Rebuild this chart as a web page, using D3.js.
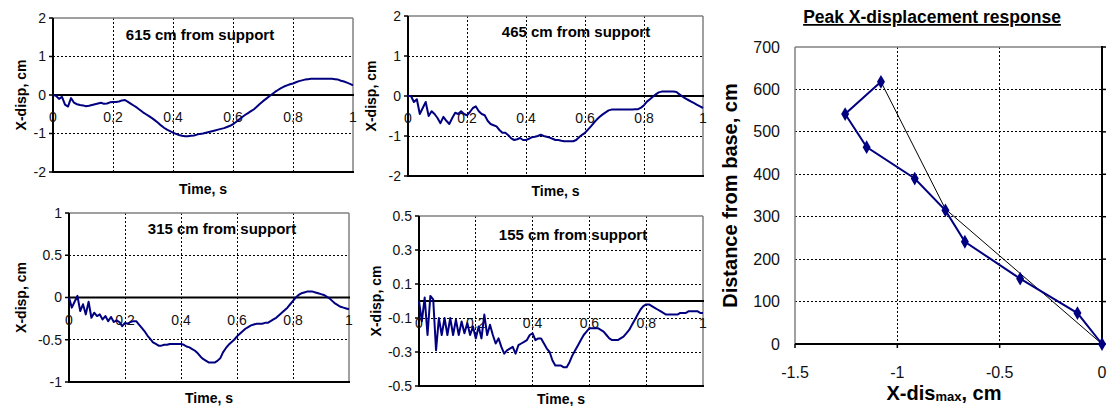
<!DOCTYPE html>
<html>
<head>
<meta charset="utf-8">
<style>
body { margin: 0; background: #fff; }
svg { font-family: Arial, "Liberation Sans", sans-serif; }
.grid { stroke: #000; stroke-width: 1; stroke-dasharray: 2,2; shape-rendering: crispEdges; }
.frame { stroke: #808080; stroke-width: 1.5; }
.axisline { stroke: #000; stroke-width: 2; }
</style>
</head>
<body>
<svg width="1107" height="406"></svg>
<script src="https://d3js.org/d3.v7.min.js"></script>
<script>

// time base of the four records, 0.01 s steps
var time = d3.range(0, 101).map(function(i) { return i / 100; });
var timeTicks = [0, 0.2, 0.4, 0.6, 0.8, 1];

// X-displacement (cm)
var disp615 = [0, -0.02, -0.1, -0.05, -0.25, -0.3, -0.08, -0.2, -0.24, -0.26,
  -0.27, -0.29, -0.28, -0.26, -0.24, -0.22, -0.2, -0.23, -0.22, -0.19,
  -0.18, -0.18, -0.17, -0.14, -0.13, -0.18, -0.23, -0.28, -0.33, -0.39,
  -0.45, -0.5, -0.55, -0.6, -0.66, -0.72, -0.79, -0.85, -0.9, -0.94,
  -0.98, -1.01, -1.04, -1.06, -1.07, -1.07, -1.06, -1.05, -1.03, -1.01,
  -1.0, -0.98, -0.96, -0.94, -0.92, -0.9, -0.88, -0.86, -0.83, -0.8,
  -0.76, -0.7, -0.64, -0.58, -0.52, -0.47, -0.42, -0.37, -0.3, -0.23,
  -0.16, -0.1, -0.04, 0.02, 0.08, 0.13, 0.18, 0.22, 0.25, 0.28,
  0.3, 0.33, 0.36, 0.38, 0.4, 0.41, 0.42, 0.42, 0.42, 0.42,
  0.42, 0.42, 0.42, 0.42, 0.41, 0.4, 0.37, 0.35, 0.32, 0.29, 0.25];

var disp465 = [0, 0, -0.15, -0.08, -0.45, -0.3, -0.15, -0.5, -0.38, -0.45,
  -0.55, -0.68, -0.52, -0.62, -0.7, -0.55, -0.42, -0.45, -0.38, -0.45,
  -0.48, -0.4, -0.3, -0.26, -0.38, -0.45, -0.48, -0.62, -0.7, -0.73,
  -0.76, -0.85, -0.92, -0.92, -0.98, -1.06, -1.1, -1.08, -1.05, -1.1,
  -1.1, -1.07, -1.03, -1.02, -1.0, -0.97, -1.0, -1.02, -1.04, -1.07,
  -1.1, -1.1, -1.12, -1.13, -1.13, -1.13, -1.13, -1.1, -1.03, -0.97,
  -0.92, -0.84, -0.76, -0.67, -0.59, -0.52, -0.46, -0.41, -0.36, -0.34,
  -0.34, -0.34, -0.34, -0.34, -0.34, -0.34, -0.34, -0.33, -0.33, -0.29,
  -0.23, -0.14, -0.08, -0.02, 0.04, 0.09, 0.11, 0.11, 0.11, 0.11,
  0.11, 0.1, 0.04, -0.01, -0.06, -0.1, -0.14, -0.18, -0.22, -0.26, -0.3];

var disp315 = [0, -0.12, -0.05, 0.02, -0.16, -0.08, -0.2, -0.05, -0.24, -0.18,
  -0.22, -0.2, -0.26, -0.22, -0.28, -0.23, -0.29, -0.27, -0.29, -0.34,
  -0.3, -0.31, -0.29, -0.28, -0.28, -0.32, -0.36, -0.4, -0.45, -0.49,
  -0.53, -0.55, -0.57, -0.57, -0.56, -0.56, -0.55, -0.55, -0.55, -0.55,
  -0.55, -0.56, -0.58, -0.59, -0.61, -0.63, -0.66, -0.7, -0.73, -0.75,
  -0.77, -0.77, -0.77, -0.75, -0.72, -0.65, -0.6, -0.56, -0.53, -0.5,
  -0.46, -0.43, -0.4, -0.37, -0.35, -0.33, -0.32, -0.31, -0.31, -0.31,
  -0.3, -0.3, -0.28, -0.26, -0.24, -0.21, -0.18, -0.15, -0.12, -0.08,
  -0.04, 0, 0.03, 0.05, 0.06, 0.07, 0.07, 0.07, 0.06, 0.05,
  0.04, 0.03, 0.01, -0.01, -0.04, -0.07, -0.09, -0.11, -0.12, -0.13, -0.14];

var disp155 = [0, -0.12, 0.02, -0.2, 0.03, 0.01, -0.29, -0.1, -0.2, -0.1,
  -0.2, -0.1, -0.2, -0.11, -0.2, -0.12, -0.19, -0.13, -0.2, -0.15,
  -0.22, -0.15, -0.22, -0.08, -0.2, -0.14, -0.2, -0.25, -0.22, -0.27,
  -0.31, -0.29, -0.28, -0.27, -0.31, -0.26, -0.25, -0.24, -0.23, -0.2,
  -0.19, -0.23, -0.22, -0.22, -0.25, -0.28, -0.3, -0.35, -0.38, -0.38,
  -0.38, -0.39, -0.39, -0.36, -0.32, -0.29, -0.26, -0.23, -0.2, -0.18,
  -0.16, -0.16, -0.16, -0.16, -0.17, -0.18, -0.2, -0.22, -0.23, -0.23,
  -0.23, -0.22, -0.21, -0.19, -0.17, -0.14, -0.11, -0.08, -0.05, -0.03,
  -0.02, -0.02, -0.03, -0.04, -0.05, -0.06, -0.07, -0.08, -0.08, -0.08,
  -0.08, -0.08, -0.07, -0.07, -0.07, -0.06, -0.06, -0.06, -0.06, -0.07, -0.07];

// peak response profile
var peakDisp   = [0, -0.12, -0.4, -0.67, -0.765, -0.915, -1.15, -1.255, -1.08];
var peakHeight = [0, 73, 154, 241, 315, 390, 464, 542, 618];
var fitDisp    = [0, -0.765, -1.08];
var fitHeight  = [0, 318, 618];
var peakXTicks = [-1.5, -1, -0.5, 0];
var peakYTicks = [0, 100, 200, 300, 400, 500, 600, 700];

var svg = d3.select("svg");
var navy = "#000080";

var panels = [
  {title: "615 cm from support", values: disp615, yTicks: [-2, -1, 0, 1, 2],
   box: {l: 53, r: 353, t: 18, b: 172}, titleX: 200, titleY: 40, ylabX: 21, timeY: 194},
  {title: "465 cm from support", values: disp465, yTicks: [-2, -1, 0, 1, 2],
   box: {l: 408, r: 703, t: 16, b: 176}, titleX: 576, titleY: 37, ylabX: 371, timeY: 196},
  {title: "315 cm from support", values: disp315, yTicks: [-1, -0.5, 0, 0.5, 1],
   box: {l: 69, r: 349, t: 213, b: 382}, titleX: 222, titleY: 234, ylabX: 21, timeY: 403},
  {title: "155 cm from support", values: disp155, yTicks: [-0.5, -0.3, -0.1, 0.1, 0.3, 0.5],
   box: {l: 419, r: 703, t: 216, b: 386}, titleX: 573, titleY: 240, ylabX: 376, timeY: 404}
];

panels.forEach(drawPanel);

function drawPanel(p) {
  var b = p.box;
  var x = d3.scaleLinear().domain([0, 1]).range([b.l, b.r]);
  var y = d3.scaleLinear().domain(d3.extent(p.yTicks)).range([b.b, b.t]);
  var g = svg.append("g");

  // gridlines
  g.selectAll(".hg").data(p.yTicks.slice(1, -1).filter(function(d) { return d !== 0; }))
    .enter().append("line").attr("class", "grid")
    .attr("x1", b.l).attr("x2", b.r)
    .attr("y1", function(d) { return y(d); }).attr("y2", function(d) { return y(d); });
  g.selectAll(".vg").data(timeTicks.slice(1, -1))
    .enter().append("line").attr("class", "grid")
    .attr("y1", b.t).attr("y2", b.b)
    .attr("x1", function(d) { return x(d); }).attr("x2", function(d) { return x(d); });

  // plot frame: grey top/right, black axis lines left/bottom
  g.append("line").attr("class", "frame").attr("x1", b.l).attr("x2", b.r).attr("y1", b.t).attr("y2", b.t);
  g.append("line").attr("class", "frame").attr("x1", b.r).attr("x2", b.r).attr("y1", b.t).attr("y2", b.b);
  g.append("line").attr("class", "axisline").attr("x1", b.l).attr("x2", b.r + 1).attr("y1", b.b).attr("y2", b.b);
  g.append("line").attr("class", "axisline").attr("x1", b.l).attr("x2", b.l).attr("y1", b.t).attr("y2", b.b + 1);
  g.append("line").attr("class", "axisline").attr("x1", b.l).attr("x2", b.r + 1).attr("y1", y(0)).attr("y2", y(0));

  // y ticks + labels
  g.selectAll(".yt").data(p.yTicks).enter().append("line")
    .attr("stroke", "#000").attr("stroke-width", 1.5)
    .attr("x1", b.l - 4).attr("x2", b.l)
    .attr("y1", function(d) { return y(d); }).attr("y2", function(d) { return y(d); });
  g.selectAll(".yl").data(p.yTicks).enter().append("text")
    .attr("x", b.l - 7).attr("y", function(d) { return y(d); })
    .attr("dy", "0.35em").attr("text-anchor", "end")
    .style("font-size", "14px").attr("fill", "#111")
    .text(function(d) { return String(d); });

  // time labels sit under the zero line
  g.selectAll(".xl").data(timeTicks).enter().append("text")
    .attr("x", function(d) { return x(d); }).attr("y", y(0) + 27)
    .attr("text-anchor", "middle")
    .style("font-size", "14px").attr("fill", "#111")
    .text(function(d) { return String(d); });

  var line = d3.line()
    .x(function(d, i) { return x(time[i]); })
    .y(function(d) { return y(d); });
  g.append("path").datum(p.values)
    .attr("d", line).attr("fill", "none")
    .attr("stroke", navy).attr("stroke-width", 2)
    .attr("stroke-linejoin", "round");

  g.append("text").attr("x", p.titleX).attr("y", p.titleY)
    .attr("text-anchor", "middle").style("font-size", "15px").style("font-weight", "bold")
    .text(p.title);
  g.append("text").attr("x", (b.l + b.r) / 2).attr("y", p.timeY)
    .attr("text-anchor", "middle").style("font-size", "14px").style("font-weight", "bold")
    .text("Time, s");
  g.append("text")
    .attr("transform", "translate(" + p.ylabX + "," + ((b.t + b.b) / 2) + ") rotate(-90)")
    .attr("dy", "0.35em").attr("text-anchor", "middle")
    .style("font-size", "14px").style("font-weight", "bold")
    .text("X-disp, cm");
}

// ---- peak displacement profile ----
var pb = {l: 795, r: 1102, t: 47, b: 344};
var px = d3.scaleLinear().domain([-1.5, 0]).range([pb.l, pb.r]);
var py = d3.scaleLinear().domain([0, 700]).range([pb.b, pb.t]);
var pg = svg.append("g");

pg.selectAll(".hg").data(peakYTicks.slice(1, -1)).enter().append("line").attr("class", "grid")
  .attr("x1", pb.l).attr("x2", pb.r)
  .attr("y1", function(d) { return py(d); }).attr("y2", function(d) { return py(d); });
pg.selectAll(".vg").data(peakXTicks.slice(1, -1)).enter().append("line").attr("class", "grid")
  .attr("y1", pb.t).attr("y2", pb.b)
  .attr("x1", function(d) { return px(d); }).attr("x2", function(d) { return px(d); });

pg.append("line").attr("class", "frame").attr("x1", pb.l).attr("x2", pb.r).attr("y1", pb.t).attr("y2", pb.t);
pg.append("line").attr("class", "frame").attr("x1", pb.l).attr("x2", pb.l).attr("y1", pb.t).attr("y2", pb.b);
pg.append("line").attr("class", "axisline").attr("x1", pb.r).attr("x2", pb.r).attr("y1", pb.t - 1).attr("y2", pb.b + 1);
pg.append("line").attr("class", "axisline").attr("x1", pb.l).attr("x2", pb.r + 1).attr("y1", pb.b).attr("y2", pb.b);

pg.selectAll(".yt").data(peakYTicks).enter().append("line")
  .attr("stroke", "#000").attr("stroke-width", 1.5)
  .attr("x1", pb.r).attr("x2", pb.r + 4)
  .attr("y1", function(d) { return py(d); }).attr("y2", function(d) { return py(d); });
pg.selectAll(".xt").data(peakXTicks).enter().append("line")
  .attr("stroke", "#000").attr("stroke-width", 1.5)
  .attr("y1", pb.b).attr("y2", pb.b + 4)
  .attr("x1", function(d) { return px(d); }).attr("x2", function(d) { return px(d); });

pg.selectAll(".yl").data(peakYTicks).enter().append("text")
  .attr("x", 780).attr("y", function(d) { return py(d); })
  .attr("dy", "0.35em").attr("text-anchor", "end")
  .style("font-size", "16px").attr("fill", "#111")
  .text(function(d) { return String(d); });
pg.selectAll(".xl").data(peakXTicks).enter().append("text")
  .attr("x", function(d) { return px(d); }).attr("y", 378)
  .attr("text-anchor", "middle")
  .style("font-size", "16px").attr("fill", "#111")
  .text(function(d) { return String(d); });

var profile = d3.line()
  .x(function(d) { return px(d[0]); })
  .y(function(d) { return py(d[1]); });

pg.append("path").datum(d3.zip(fitDisp, fitHeight))
  .attr("d", profile).attr("fill", "none").attr("stroke", "#000").attr("stroke-width", 1);
pg.append("path").datum(d3.zip(peakDisp, peakHeight))
  .attr("d", profile).attr("fill", "none").attr("stroke", navy).attr("stroke-width", 2);
pg.selectAll(".mk").data(d3.zip(peakDisp, peakHeight)).enter().append("path")
  .attr("d", d3.symbol().type(d3.symbolDiamond).size(55))
  .attr("transform", function(d) { return "translate(" + px(d[0]) + "," + py(d[1]) + ")"; })
  .attr("fill", navy);

pg.append("text").attr("x", 932).attr("y", 23)
  .attr("text-anchor", "middle").style("font-size", "17.5px").style("font-weight", "bold")
  .style("text-decoration", "underline")
  .text("Peak X-displacement response");

pg.append("text")
  .attr("transform", "translate(730," + ((pb.t + pb.b) / 2) + ") rotate(-90)")
  .attr("dy", "0.35em").attr("text-anchor", "middle")
  .style("font-size", "20px").style("font-weight", "bold")
  .text("Distance from base, cm");

var xt = pg.append("text").attr("x", 944).attr("y", 400)
  .attr("text-anchor", "middle").style("font-size", "20px").style("font-weight", "bold");
xt.append("tspan").text("X-dis");
xt.append("tspan").attr("dy", 1).style("font-size", "13px").text("max");
xt.append("tspan").attr("dy", -1).text(", cm");

</script>
</body>
</html>
